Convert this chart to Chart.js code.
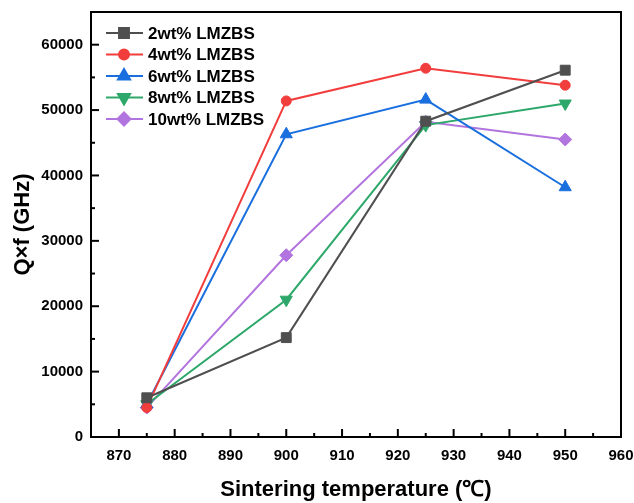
<!DOCTYPE html>
<html>
<head>
<meta charset="utf-8">
<script src="https://cdn.jsdelivr.net/npm/chart.js@4.4.0/dist/chart.umd.min.js"></script>
<style>
  html, body { margin:0; padding:0; background:#fff; }
  #wrap { width:634px; height:503px; }
</style>
</head>
<body>
<div id="wrap"><canvas id="qfChart" width="634" height="503"></canvas></div>
<script>
"use strict";

// ─── Data ─────────────────────────────────────────────
const temps   = [875, 900, 925, 950];
const wt2     = [6000, 15200, 48300, 56100];
const wt4     = [4500, 51400, 56400, 53800];
const wt6     = [5000, 46300, 51600, 38200];
const wt8     = [5000, 21000, 47700, 51000];
const wt10    = [4500, 27800, 48200, 45500];
const labels  = ["2wt% LMZBS", "4wt% LMZBS", "6wt% LMZBS", "8wt% LMZBS", "10wt% LMZBS"];

const COLORS = ["#4f4f4f", "#f23d3d", "#1a6fdf", "#2ea86a", "#b274de"];
const SHAPES = ["rect", "circle", "triangle", "triangle", "rectRot"];
const ROTS   = [0, 0, 0, 180, 0];
const RADII  = [7, 5, 7, 7, 6.5];

const FONT = "'Liberation Sans', Arial, sans-serif";

function series(vals, i) {
  return {
    label: labels[i],
    data: temps.map((t, k) => ({ x: t, y: vals[k] })),
    borderColor: COLORS[i],
    backgroundColor: COLORS[i],
    borderWidth: 2,
    pointStyle: SHAPES[i],
    rotation: ROTS[i],
    pointRadius: RADII[i],
    pointBorderWidth: 1,
    tension: 0,
  };
}

// ─── Frame + inward ticks + legend ────────────────────
const framePlugin = {
  id: "frame",
  afterDraw(chart) {
    const { ctx, chartArea: a, scales } = chart;
    ctx.save();
    ctx.strokeStyle = "#000";
    ctx.lineWidth = 2;
    ctx.strokeRect(a.left, a.top, a.right - a.left, a.bottom - a.top);

    ctx.lineWidth = 2;
    scales.x.ticks.forEach(t => {
      const px = scales.x.getPixelForValue(t.value);
      const len = t.value % 10 === 0 ? 8 : 4;
      ctx.beginPath(); ctx.moveTo(px, a.bottom); ctx.lineTo(px, a.bottom - len); ctx.stroke();
    });
    scales.y.ticks.forEach(t => {
      const py = scales.y.getPixelForValue(t.value);
      const len = t.value % 10000 === 0 ? 8 : 4;
      ctx.beginPath(); ctx.moveTo(a.left, py); ctx.lineTo(a.left + len, py); ctx.stroke();
    });

    // legend (top-left inside plot)
    chart.data.datasets.forEach((ds, i) => {
      const y = a.top + 21 + i * 21.5;
      const x0 = a.left + 15;
      ctx.strokeStyle = ds.borderColor;
      ctx.lineWidth = 2;
      ctx.beginPath(); ctx.moveTo(x0, y); ctx.lineTo(x0 + 37, y); ctx.stroke();
      ctx.fillStyle = ds.backgroundColor;
      Chart.helpers.drawPoint(ctx, {
        pointStyle: ds.pointStyle, rotation: ds.rotation,
        radius: ds.pointRadius, borderWidth: 1,
      }, x0 + 18, y);
      ctx.fillStyle = "#000";
      ctx.font = "bold 17px " + FONT;
      ctx.textBaseline = "middle";
      ctx.fillText(ds.label, x0 + 42, y + 1);
    });
    ctx.restore();
  },
};

new Chart(document.getElementById("qfChart"), {
  type: "line",
  data: { datasets: [wt2, wt4, wt6, wt8, wt10].map(series) },
  plugins: [framePlugin],
  options: {
    responsive: false,
    animation: false,
    layout: { padding: { top: 12, right: 13, left: 0, bottom: 0 } },
    plugins: { legend: { display: false }, tooltip: { enabled: false } },
    scales: {
      x: {
        type: "linear", min: 865, max: 960,
        afterFit: s => { s.height = 66; s.paddingLeft = 0; s.paddingRight = 0; },
        grid: { display: false, drawTicks: false },
        border: { display: false },
        ticks: {
          stepSize: 5, padding: 10, color: "#000",
          font: { family: FONT, size: 15, weight: "bold" },
          autoSkip: false, maxRotation: 0,
          callback: v => (v % 10 === 0 ? v : ""),
        },
        title: {
          display: true, text: "Sintering temperature (℃)", color: "#000",
          font: { family: FONT, size: 22, weight: "bold" }, padding: { top: 10, bottom: 0 },
        },
      },
      y: {
        min: 0, max: 65000,
        afterFit: s => { s.width = 91; s.paddingTop = 0; s.paddingBottom = 0; },
        grid: { display: false, drawTicks: false },
        border: { display: false },
        ticks: {
          stepSize: 5000, padding: 8, color: "#000",
          font: { family: FONT, size: 15, weight: "bold" },
          autoSkip: false,
          callback: v => (v % 10000 === 0 ? v : ""),
        },
        title: {
          display: true, text: "Q×f (GHz)", color: "#000",
          font: { family: FONT, size: 22, weight: "bold" }, padding: { top: 10, bottom: 4 },
        },
      },
    },
  },
});
</script>
</body>
</html>
